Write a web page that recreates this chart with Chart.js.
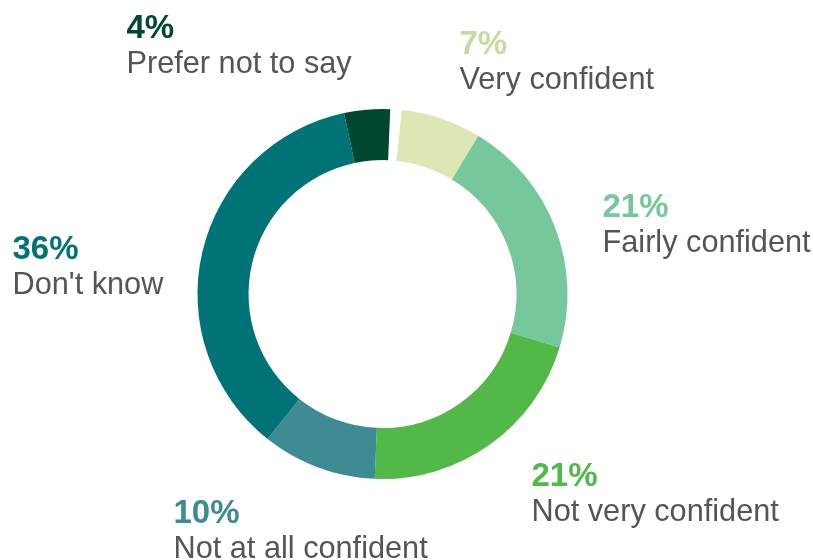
<!DOCTYPE html>
<html>
<head>
<meta charset="utf-8">
<script src="https://cdn.jsdelivr.net/npm/chart.js@4/dist/chart.umd.min.js"></script>
<style>
  html, body { margin: 0; padding: 0; background: #ffffff; }
  #wrap { position: relative; width: 813px; height: 560px; }
</style>
</head>
<body>
<div id="wrap"><canvas id="chart"></canvas></div>
<script>
// Survey answers, in clockwise order from the top
const categories = ['Very confident', 'Fairly confident', 'Not very confident', 'Not at all confident', "Don't know", 'Prefer not to say'];
const shares = [7, 21, 21, 10, 36, 4];
const sliceColors = ['#dbe8b3', '#77c79c', '#52b848', '#3f8b93', '#007377', '#00472f'];
const shareTextColors = ['#c6dc9e', '#77c79c', '#52b848', '#3f8b93', '#007377', '#00472f'];

// Where each label block sits, relative to the ring centre (left edge, first baseline)
const labelOffsets = [
  [77, -240], [220, -77], [149, 192], [-209, 229], [-370, -35], [-256, -256]
];

// Rounded shares total 99, so the ring covers only that part of a full turn
const total = shares.reduce((a, b) => a + b, 0);

const labelPlugin = {
  id: 'sliceLabels',
  afterDraw(chart) {
    const meta = chart.getDatasetMeta(0);
    if (!meta.data.length) return;
    const { x: cx, y: cy } = meta.data[0].getProps(['x', 'y'], true);
    const ctx = chart.ctx;
    ctx.save();
    ctx.textAlign = 'left';
    ctx.textBaseline = 'alphabetic';
    shares.forEach((v, i) => {
      const [dx, dy] = labelOffsets[i];
      const x = cx + dx, y = cy + dy;
      ctx.font = 'bold 33px "Liberation Sans", Arial, sans-serif';
      ctx.fillStyle = shareTextColors[i];
      ctx.fillText(v + '%', x, y);
      ctx.font = '30.7px "Liberation Sans", Arial, sans-serif';
      ctx.fillStyle = '#555555';
      ctx.fillText(categories[i], x, y + 35);
    });
    ctx.restore();
  }
};

new Chart(document.getElementById('chart'), {
  type: 'doughnut',
  data: {
    labels: categories,
    datasets: [{
      data: shares,
      backgroundColor: sliceColors,
      borderWidth: 0
    }]
  },
  options: {
    responsive: true,
    maintainAspectRatio: false,
    animation: false,
    rotation: 6,
    circumference: 360 * total / 100,
    cutout: '72.4%',
    layout: { padding: { left: 197.5, right: 245.5, top: 109, bottom: 81 } },
    plugins: {
      legend: { display: false },
      tooltip: { enabled: false }
    }
  },
  plugins: [labelPlugin]
});
</script>
</body>
</html>
